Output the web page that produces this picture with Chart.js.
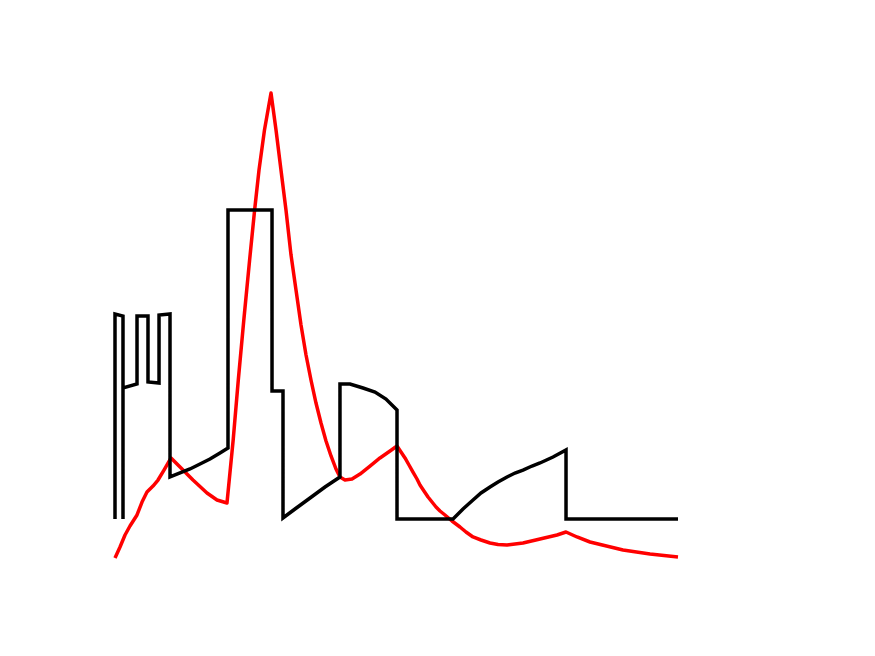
<!DOCTYPE html>
<html>
<head>
<meta charset="utf-8">
<script src="https://cdn.jsdelivr.net/npm/chart.js@4/dist/chart.umd.min.js"></script>
<style>
html,body{margin:0;padding:0;background:#fff;}
#wrap{width:875px;height:656px;}
</style>
</head>
<body>
<div id="wrap"><canvas id="c" width="875" height="656"></canvas></div>
<script>
// Black series (step-like input), x = time, y = level
const blackX = [0, 0, 1.42, 1.42, 1.42, 3.91, 3.91, 5.86, 5.86, 7.82, 7.82, 9.77, 9.77, 11.55, 13.32, 15.10, 16.87, 18.65, 20.07, 20.07, 27.89, 27.89, 29.84, 29.84, 31.97, 34.64, 37.30, 39.96, 39.96, 41.74, 44.05, 46.18, 48.13, 50.09, 50.09, 60.04, 61.81, 63.59, 65.01, 66.61, 68.03, 69.63, 71.05, 72.47, 74.07, 75.49, 77.80, 80.11, 80.11, 100];
const blackY = [8.39, 52.47, 52.04, 8.39, 36.56, 37.42, 52.04, 52.04, 37.85, 37.63, 52.26, 52.47, 17.42, 18.28, 19.14, 20.22, 21.29, 22.58, 23.66, 74.84, 74.84, 35.91, 35.91, 8.60, 10.54, 12.90, 15.27, 17.42, 37.42, 37.42, 36.56, 35.70, 34.19, 31.83, 8.39, 8.39, 10.54, 12.47, 13.98, 15.27, 16.34, 17.42, 18.28, 18.92, 19.78, 20.43, 21.72, 23.23, 8.39, 8.39];

// Red series (response curve)
const redX = [0, 0.89, 1.78, 2.66, 3.91, 4.8, 5.68, 6.75, 7.64, 8.7, 9.95, 11.55, 13.85, 16.34, 18.12, 19.89, 20.99, 21.90, 22.88, 23.91, 24.80, 25.58, 26.55, 27.71, 28.6, 29.48, 30.37, 31.26, 32.15, 33.04, 33.93, 34.81, 35.7, 36.59, 37.48, 38.37, 39.25, 39.96, 40.85, 42.1, 43.52, 45.29, 47.07, 48.85, 50.09, 50.80, 51.51, 52.22, 52.93, 53.64, 54.17, 54.88, 55.6, 56.31, 57.02, 57.73, 58.61, 59.86, 61.28, 62.34, 63.59, 65.01, 66.61, 68.03, 69.63, 72.47, 75.49, 78.51, 80.11, 82.06, 84.37, 90.23, 95.03, 100];
const redY = [0, 2.37, 4.95, 6.88, 9.25, 12.04, 14.19, 15.48, 16.77, 18.92, 21.51, 19.57, 16.77, 13.98, 12.47, 11.83, 25.38, 38.28, 51.18, 64.09, 74.84, 83.44, 92.04, 100, 92.04, 83.44, 74.84, 65.2, 57.63, 50.11, 43.66, 38.28, 33.33, 29.03, 25.16, 21.94, 19.14, 17.42, 16.77, 16.99, 18.06, 19.78, 21.51, 23.01, 24.09, 22.80, 21.51, 20.0, 18.49, 16.99, 15.7, 14.41, 13.12, 12.04, 10.97, 10.11, 9.25, 7.96, 6.67, 5.59, 4.52, 3.87, 3.23, 2.90, 2.8, 3.23, 4.09, 4.95, 5.59, 4.52, 3.44, 1.72, 0.86, 0.22];

const toPts = (xs, ys) => xs.map((x, i) => ({x: x, y: ys[i]}));

new Chart(document.getElementById('c'), {
  type: 'scatter',
  data: {
    datasets: [
      {
        data: toPts(blackX, blackY),
        showLine: true,
        borderColor: '#000000',
        backgroundColor: '#000000',
        borderWidth: 3.5,
        pointRadius: 0,
        tension: 0,
        borderJoinStyle: 'miter',
        clip: false
      },
      {
        data: toPts(redX, redY),
        showLine: true,
        borderColor: '#ff0000',
        backgroundColor: '#ff0000',
        borderWidth: 3.5,
        pointRadius: 0,
        tension: 0,
        borderJoinStyle: 'round',
        clip: false
      }
    ]
  },
  options: {
    responsive: false,
    animation: false,
    layout: {padding: {left: 115, right: 197, top: 93, bottom: 98}},
    plugins: {legend: {display: false}, tooltip: {enabled: false}},
    scales: {
      x: {type: 'linear', min: 0, max: 100, display: false},
      y: {type: 'linear', min: 0, max: 100, display: false}
    }
  }
});
</script>
</body>
</html>
